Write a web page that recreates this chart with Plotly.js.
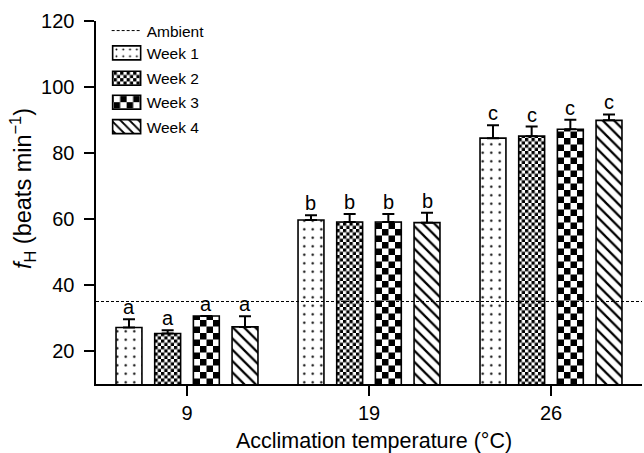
<!DOCTYPE html>
<html>
<head>
<meta charset="utf-8">
<script src="https://cdn.plot.ly/plotly-3.0.1.min.js"></script>
<style>
  html, body { margin: 0; padding: 0; background: #fff; }
  #chart { width: 644px; height: 453px; }
</style>
</head>
<body>
<div id="chart"></div>
<script>
// ---- data ----
const categories = ['9', '19', '26'];
const seriesNames = ['Week 1', 'Week 2', 'Week 3', 'Week 4'];
const week1 = [27.1, 59.7, 84.5];
const week2 = [25.3, 59.1, 85.1];
const week3 = [30.6, 59.1, 87.2];
const week4 = [27.3, 58.9, 89.9];
const err1 = [2.5, 1.4, 3.9];
const err2 = [1.0, 2.4, 2.9];
const err3 = [0.0, 2.4, 2.9];
const err4 = [3.2, 3.0, 1.8];
const letters = ['a', 'b', 'c'];
const ambient = 35;
const yTicks = [20, 40, 60, 80, 100, 120];

const FONT = 'Liberation Sans, Arial, Helvetica, sans-serif';
const values = [week1, week2, week3, week4];
const errs = [err1, err2, err3, err4];
const bargap = 0.15, bargroupgap = 0.33;

const patterns = [
  {shape: '.', size: 8.5, solidity: 0.06, fgcolor: '#000', bgcolor: '#fff', fillmode: 'replace'},
  null,
  null,
  {shape: '\\', size: 8, solidity: 0.28, fgcolor: '#000', bgcolor: '#fff', fillmode: 'replace'}
];

const traces = [];
traces.push({
  type: 'scatter', mode: 'lines', name: 'Ambient',
  x: [0, 1], y: [ambient, ambient], xaxis: 'x2', yaxis: 'y',
  line: {color: '#000', width: 1, dash: '3px,2px'},
  hoverinfo: 'skip'
});
values.forEach((v, k) => {
  const m = {color: '#fff', line: {color: '#000', width: 1.6}};
  if (patterns[k]) m.pattern = patterns[k];
  traces.push({
    type: 'bar', name: seriesNames[k], x: categories, y: v,
    marker: m,
    error_y: {type: 'data', array: errs[k], arrayminus: errs[k].map(() => 0), symmetric: false,
              color: '#000', thickness: 2, width: 6},
    hoverinfo: 'skip'
  });
});

// letter annotations above each bar's error bar
const annotations = [];
const slot = (1 - bargap) / seriesNames.length;
categories.forEach((c, i) => {
  values.forEach((v, k) => {
    annotations.push({
      x: i + (k - (seriesNames.length - 1) / 2) * slot, xref: 'x',
      y: v[i] + errs[k][i], yref: 'y',
      text: letters[i], showarrow: false, yanchor: 'bottom', yshift: -1,
      font: {family: FONT, size: 20, color: '#000'}
    });
  });
});

const layout = {
  width: 644, height: 453,
  margin: {l: 96, r: 2, t: 21, b: 69},
  paper_bgcolor: '#fff', plot_bgcolor: '#fff',
  font: {family: FONT, color: '#000', size: 20},
  barmode: 'group', bargap: bargap, bargroupgap: bargroupgap,
  showlegend: true,
  legend: {x: 0.0195, y: 1.0, xanchor: 'left', yanchor: 'top',
           font: {family: FONT, size: 15.5, color: '#000'},
           bgcolor: 'rgba(0,0,0,0)', tracegroupgap: 0, itemwidth: 30},
  xaxis: {
    type: 'category', range: [-0.5, 2.5], showgrid: false, zeroline: false,
    showline: true, linecolor: '#000', linewidth: 1.6,
    ticks: 'outside', ticklen: 10, tickwidth: 1.6, tickcolor: '#000',
    tickfont: {family: FONT, size: 20}, automargin: false,
    title: {text: 'Acclimation temperature (°C)', font: {family: FONT, size: 21.5}, standoff: 12}
  },
  xaxis2: {overlaying: 'x', range: [0, 1], visible: false, fixedrange: true},
  yaxis: {
    range: [10, 120], tickvals: yTicks, showgrid: false, zeroline: false,
    showline: true, linecolor: '#000', linewidth: 1.6,
    ticks: 'outside', ticklen: 10, tickwidth: 1.6, tickcolor: '#000',
    tickfont: {family: FONT, size: 20}, automargin: false, ticklabelstandoff: 6,
    title: {text: '<i>f</i><sub>H</sub> (beats min<sup>−1</sup>)', font: {family: FONT, size: 23.5}, standoff: 3}
  },
  annotations: annotations
};

Plotly.newPlot('chart', traces, layout, {staticPlot: true, displayModeBar: false}).then(gd => {
  const NS = 'http://www.w3.org/2000/svg';
  const svg = gd.querySelector('.main-svg');
  let defs = svg.querySelector('defs');
  function mkPattern(id, size, sq) {
    const p = document.createElementNS(NS, 'pattern');
    p.setAttribute('id', id);
    p.setAttribute('patternUnits', 'userSpaceOnUse');
    p.setAttribute('width', size); p.setAttribute('height', size);
    const bg = document.createElementNS(NS, 'rect');
    bg.setAttribute('width', size); bg.setAttribute('height', size); bg.setAttribute('fill', '#fff');
    p.appendChild(bg);
    [[0, 0], [sq, sq]].forEach(([x, y]) => {
      const r = document.createElementNS(NS, 'rect');
      r.setAttribute('x', x); r.setAttribute('y', y);
      r.setAttribute('width', sq); r.setAttribute('height', sq); r.setAttribute('fill', '#000');
      p.appendChild(r);
    });
    defs.appendChild(p);
  }
  mkPattern('chkFine', 6.5, 3.25);
  mkPattern('chkBig', 13, 6.5);
  const custom = {1: 'url(#chkFine)', 2: 'url(#chkBig)'};
  const barTraces = gd.querySelectorAll('.barlayer .trace');
  barTraces.forEach((t, k) => {
    if (custom[k]) t.querySelectorAll('.point path').forEach(p => { p.style.fill = custom[k]; });
  });

  // legend styling: wider swatches, reference row spacing
  const sb = gd.querySelector('.legend .scrollbox');
  if (sb) sb.removeAttribute('clip-path');
  const legTraces = gd.querySelectorAll('.legend .traces');
  const rowOffsets = [0, 22.3, 47.6, 71.6, 96];
  let y0 = null;
  legTraces.forEach((t, idx) => {
    const tr = t.getAttribute('transform') || '';
    const m = tr.match(/translate\(\s*([-\d.e]+)[ ,]+([-\d.e]+)/);
    if (m) {
      const x = parseFloat(m[1]), y = parseFloat(m[2]);
      if (y0 === null) y0 = y - 7;
      t.setAttribute('transform', 'translate(' + x + ',' + (y0 + rowOffsets[idx]) + ')');
    }
    if (idx === 0) {
      t.querySelectorAll('.legendpoints path').forEach(p => p.setAttribute('d', 'M6,0h26'));
      return;
    }
    const k = idx - 1;
    t.querySelectorAll('.legendpoints path').forEach(p => {
      p.setAttribute('d', 'M-14,7H14V-7H-14Z');
      if (custom[k]) p.style.fill = custom[k];
    });
  });

  // nudge axis titles to reference positions
  const yt = gd.querySelector('.g-ytitle');
  if (yt) yt.setAttribute('transform', 'translate(0,-14)');
  const xt = gd.querySelector('.g-xtitle');
  if (xt) xt.setAttribute('transform', 'translate(5,-2)');
});
</script>
</body>
</html>
